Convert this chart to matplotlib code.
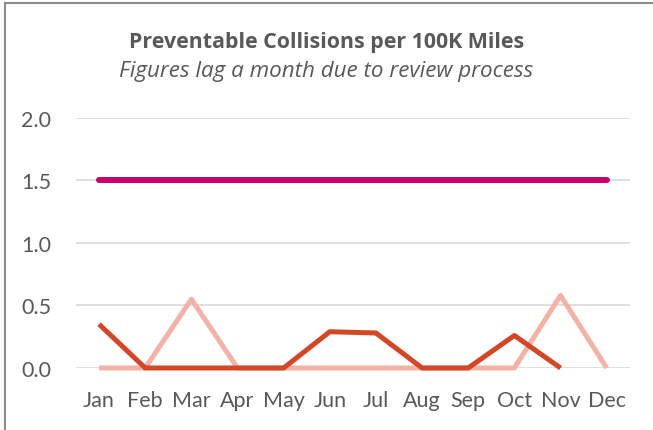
import matplotlib
matplotlib.use("Agg")
import matplotlib.pyplot as plt
from matplotlib.lines import Line2D

months = ["Jan", "Feb", "Mar", "Apr", "May", "Jun",
          "Jul", "Aug", "Sep", "Oct", "Nov", "Dec"]
target = [1.5] * 12
prior_year = [0.0, 0.0, 0.55, 0.0, 0.0, 0.0, 0.0, 0.0, 0.0, 0.0, 0.58, 0.0]
current_year = [0.35, 0.0, 0.0, 0.0, 0.0, 0.29, 0.28, 0.0, 0.0, 0.26, 0.0]
y_ticks = [0.0, 0.5, 1.0, 1.5, 2.0]

text_color = "#595959"
plt.rcParams["font.family"] = ["Lato", "DejaVu Sans"]

fig = plt.figure(figsize=(6.53, 4.31), dpi=100)
ax = fig.add_axes([0.1164, 0.1439, 0.848, 0.58])

x_all = list(range(len(months)))
ax.plot(x_all, prior_year, color="#F2B3A6", lw=3.6, solid_capstyle="butt",
        clip_on=False, zorder=3)
ax.plot(x_all[:len(current_year)], current_year, color="#D44726", lw=3.6,
        solid_capstyle="butt", clip_on=False, zorder=4)
ax.plot(x_all, target, color="#C8006A", lw=4.3, solid_capstyle="round",
        clip_on=False, zorder=5)

ax.set_xlim(-0.5, 11.5)
ax.set_ylim(0, 2.0)
ax.set_yticks(y_ticks)
ax.set_yticklabels([f"{v:.1f}" for v in y_ticks])
ax.set_xticks(x_all)
ax.set_xticklabels(months)
ax.grid(axis="y", color="#D9D9D9", lw=1.2)
ax.set_axisbelow(True)
for s in ax.spines.values():
    s.set_visible(False)
ax.tick_params(length=0, labelsize=15.5, colors=text_color)
ax.tick_params(axis="y", pad=18)
ax.tick_params(axis="x", pad=16)

fig.text(0.5, 0.902, "Preventable Collisions per 100K Miles", ha="center",
         va="center", fontsize=15.4, fontweight="bold", color=text_color,
         family=["Open Sans", "DejaVu Sans"])
fig.text(0.5, 0.833, "Figures lag a month due to review process", ha="center",
         va="center", fontsize=16.1, style="italic", color=text_color,
         family=["Open Sans", "DejaVu Sans"])

# frame around the chart (only top and left edges are visible in the crop)
fig.add_artist(Line2D([0.0069, 1.0], [0.9896, 0.9896], color="#8C8C8C", lw=1.5))
fig.add_artist(Line2D([0.0069, 0.0069], [0.0, 0.9896], color="#8C8C8C", lw=1.5))

fig.savefig("out.png", dpi=100)
